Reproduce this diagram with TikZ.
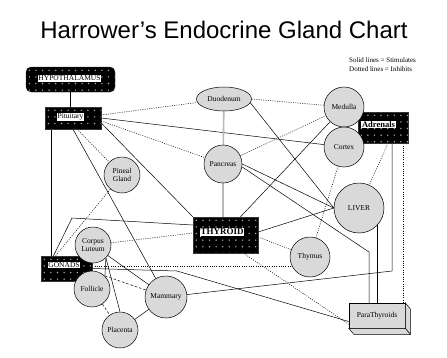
\documentclass[tikz,border=0pt]{standalone}
\usepackage{fontspec}
\setmainfont{Liberation Serif}
\newfontfamily\titlefont{Liberation Sans}
\usetikzlibrary{shapes.misc,shapes.geometric,backgrounds,calc}
\definecolor{gfill}{RGB}{217,217,217}
\begin{document}
\begin{tikzpicture}[x=1pt,y=-1pt,
  circ/.style={circle,draw=black,line width=0.5pt,fill=gfill,inner sep=0pt,align=center,font=\fontsize{7.5}{8}\selectfont},
  dotbg/.style={path picture={\foreach \i in {0,...,14}{\foreach \j in {0,...,6}{\fill[gray!65] ([shift={(3.3+\i*6.6,3.3+\j*6.6)}]path picture bounding box.north west) circle (0.8pt);}}}},
  blk/.style={chamfered rectangle,chamfered rectangle corners={north east,south west},chamfered rectangle xsep=4pt,chamfered rectangle ysep=4pt,draw=gray!40!black,fill=black,inner sep=0pt,dotbg},
  blkr/.style={rectangle,rounded corners=5pt,draw=gray!40!black,fill=black,inner sep=0pt,dotbg},
  lbl/.style={fill=white,inner sep=0.8pt,font=\fontsize{7.5}{8}\selectfont},
  stim/.style={draw=black,line width=0.5pt},
  inh/.style={draw=black,line width=0.5pt,dash pattern=on 1pt off 1.3pt},
  dsh/.style={draw=black,line width=0.5pt,dash pattern=on 2.5pt off 2pt},
  gline/.style={draw=gray!55,line width=1.6pt}
]
\useasboundingbox (0,0) rectangle (447,357);
\node[font=\titlefont\fontsize{24}{26}\selectfont] (title) at (224,30) {Harrower’s Endocrine Gland Chart};
\node[anchor=north west,align=left,inner sep=0pt,font=\fontsize{7}{9}\selectfont] (leg) at (349,57) {Solid lines = Stimulates\\Dotted lines = Inhibits};

\node[blkr,minimum width=89pt,minimum height=25pt] (hyp) at (70.5,79.5) {};
\node[lbl] (hypt) at (69.5,78.5) {HYPOTHALAMUS};
\node[blk,minimum width=56pt,minimum height=22pt] (pit) at (73,118) {};
\node[lbl] (pitt) at (70.5,117) {Pituitary};
\node[blk,minimum width=50pt,minimum height=31pt] (adr) at (383,127.5) {};
\node[circ,minimum size=40pt] (med) at (344,107) {Medulla};
\node[circ,minimum size=40pt] (cor) at (344,147) {Cortex};
\node[lbl,font=\bfseries\fontsize{8.5}{9}\selectfont] (adrt) at (378.5,124.5) {Adrenals};
\node[circ,ellipse,minimum width=55pt,minimum height=24pt] (duo) at (224,99) {Duodenum};
\node[circ,minimum size=38pt] (pan) at (223,164) {Pancreas};
\node[circ,minimum size=36pt] (pin) at (122,175) {Pineal\\Gland};
\node[circ,minimum size=50pt] (liv) at (359,208) {LIVER};
\node[blk,minimum width=65pt,minimum height=36pt] (thy) at (225.5,235) {};
\node[lbl,font=\bfseries\fontsize{9}{10}\selectfont] (thyt) at (222,232.5) {\underline{THYROID}};
\node[circ,minimum size=40pt] (thm) at (310,257) {Thymus};
\node[rectangle,draw=black,line width=0.5pt,fill=gfill,minimum width=56pt,minimum height=25pt,font=\fontsize{7.5}{8}\selectfont] (para) at (377,315.5) {ParaThyroids};
\filldraw[fill=gfill,draw=black,line width=0.5pt] (para.north east) -- ++(5,6) -- ($(para.south east)+(5,6)$) -- (para.south east) -- cycle;
\filldraw[fill=gfill,draw=black,line width=0.5pt] (para.south west) -- ++(5,6) -- ($(para.south east)+(5,6)$) -- (para.south east) -- cycle;
\node[blk,minimum width=51pt,minimum height=25pt] (gon) at (66.5,268.5) {};
\node[circ,minimum size=36pt] (cl) at (93,245) {Corpus\\Luteum};
\node[circ,minimum size=36pt] (fol) at (92,289) {Follicle};
\node[lbl] (gont) at (64,265) {GONADS};
\node[circ,minimum size=42pt] (mam) at (166,297) {Mammary};
\node[circ,minimum size=36pt] (pla) at (120,330) {Placenta};

\coordinate (b1) at (369,252);
\coordinate (b2) at (392,271);
\coordinate (b3) at (72,218);
\coordinate (b4) at (177,271);
\coordinate (g1) at ($(gon.east)+(0,-2)$);

\begin{pgfonlayer}{background}
\fill[white] (0,0) rectangle (447,357);
\draw[stim] (hyp) -- (hyp |- pit);
\draw[inh] ($(pit.east)+(0,-3)$) -- (duo);
\draw[stim] (pit.east) -- (cor);
\draw[inh] ($(pit.east)+(0,3)$) -- (pan);
\draw[inh] ($(pit.south)+(4,0)$) -- (pin);
\draw[stim] ($(pit.east)+(0,5)$) -- (thy.north west);
\draw[stim] (pit.south) -- (mam);
\draw[stim] ($(pit.south)+(-22,0)$) -- ($(gon.north)+(-15.5,0)$);
\draw[gline] (duo) -- (pan);
\draw[gline] (pan) -- (pan |- thy.north);
\draw[inh] (duo.east) -- (med);
\draw[stim] ($(duo.east)+(-2,3)$) -- (liv.west);
\draw[inh] (pan) -- (med);
\draw[stim] (pan.east) -- (liv.west);
\draw[stim] ($(pan.east)+(0,3)$) -- (b1) -- (b1 |- para.north);
\draw[stim] ($(thy.north)+(15,0)$) -- (med);
\draw[stim] ($(thy.east)+(0,-3)$) -- (liv.west);
\draw[inh] ($(thy.east)+(0,2)$) -- (thm);
\draw[inh] ($(thy.south)+(18,0)$) -- ($(para.south west)+(0,-4)$);
\draw[inh] (cor) -- (thm);
\draw[inh] ($(adr.south)+(5,0)$) -- (liv);
\draw[stim] ($(adr.south)+(9,0)$) -- (b2) -- (mam);
\draw[inh] ($(adr.south)+(20,0)$) -- ($(para.north)+(26,0)$);
\draw[stim] (para.north) -- (para.north |- liv);
\draw[stim] ($(gon.north)+(-13,0)$) -- (b3) -- ($(thy.west)+(0,-10)$);
\draw[inh] (cl) -- ($(thy.west)+(0,-2)$);
\draw[inh] (pin) -- ($(gon.north)+(-11,0)$);
\draw[inh] (g1) -- (g1 -| thm);
\draw[stim] (gon.east) -- (b4) -- ($(para.west)+(0,6)$);
\draw[dsh] ($(gon.east)+(0,3)$) -- (mam);
\draw[stim] (cl) -- (mam);
\draw[stim] (cl.south east) -- (pla.north);
\draw[stim] (cl.south east) -- (fol.north east);
\draw[dsh] (fol) -- (pla);
\draw[stim] (mam) -- (pla);
\end{pgfonlayer}
\end{tikzpicture}
\end{document}
